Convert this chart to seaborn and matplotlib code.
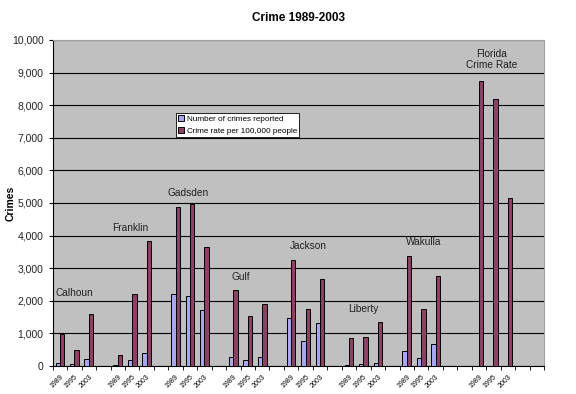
import numpy as np
import pandas as pd
import seaborn as sns
import matplotlib.pyplot as plt
from matplotlib.ticker import FuncFormatter

# data
counties = ["Calhoun", "Franklin", "Gadsden", "Gulf", "Jackson", "Liberty", "Wakulla", "Florida"]
years = ["1989", "1995", "2003"]
crimes_reported = [
    [100, 50, 200],      # Calhoun
    [30, 195, 400],      # Franklin
    [2220, 2140, 1715],  # Gadsden
    [290, 185, 290],     # Gulf
    [1460, 770, 1305],   # Jackson
    [20, 50, 80],        # Liberty
    [470, 260, 670],     # Wakulla
    [np.nan, np.nan, np.nan],  # Florida (not shown)
]
crime_rate = [
    [970, 480, 1610],
    [340, 2200, 3840],
    [4880, 4970, 3655],
    [2320, 1530, 1900],
    [3245, 1745, 2660],
    [850, 895, 1345],
    [3380, 1735, 2760],
    [8750, 8200, 5150],
]
label_text = ["Calhoun", "Franklin", "Gadsden", "Gulf", "Jackson", "Liberty", "Wakulla", "Florida\nCrime Rate"]
label_x = [1.0, 4.9, 8.9, 12.5, 17.2, 21.0, 25.2, 29.9]
label_y = [2230, 4230, 5320, 2720, 3670, 1750, 3790, 9400]

series = ["Number of crimes reported", "Crime rate per 100,000 people"]
colors = ["#9999FF", "#993366"]

# slot layout: 3 years per county, blank slots between groups
group_start = [0, 4, 8, 12, 16, 20, 24, 29]
n_slots = 34
slots = [f"blank{i}" for i in range(n_slots)]
tick_labels = [""] * n_slots
rows = []
for c, start in zip(range(len(counties)), group_start):
    for k, yr in enumerate(years):
        name = f"{counties[c]} {yr}"
        slots[start + k] = name
        tick_labels[start + k] = yr
        rows.append({"slot": name, "series": series[0], "value": crimes_reported[c][k]})
        rows.append({"slot": name, "series": series[1], "value": crime_rate[c][k]})
df = pd.DataFrame(rows)

plt.rcParams['font.family'] = ['Liberation Sans', 'DejaVu Sans']
fig = plt.figure(figsize=(5.76, 3.94), dpi=100)
ax = fig.add_axes([0.0915, 0.0711, 0.853, 0.8274])
ax.set_facecolor("#C0C0C0")

sns.barplot(data=df, x="slot", y="value", hue="series", order=slots, hue_order=series,
            palette=colors, width=0.6, edgecolor="black", linewidth=0.7, ax=ax, zorder=3)

ax.set_xlim(-0.5, n_slots - 0.5)
ax.set_ylim(0, 10000)
ax.set_yticks(range(0, 10001, 1000))
ax.yaxis.set_major_formatter(FuncFormatter(lambda v, p: f"{int(v):,}"))
ax.grid(axis="y", color="black", linewidth=0.8, zorder=0)
ax.set_axisbelow(True)

ax.set_xticks(range(n_slots))
ax.set_xticklabels(tick_labels, rotation=45, ha="right", fontsize=5, rotation_mode="anchor")
ax.set_xticks(np.arange(-0.5, n_slots, 1), minor=True)
ax.tick_params(axis="x", which="major", length=0, pad=5)
ax.tick_params(axis="x", which="minor", length=3, color="black")
ax.tick_params(axis="y", labelsize=7.5, length=3, color="black", labelcolor="#222222")

for s in ["top", "right"]:
    ax.spines[s].set_color("#A0A0A0")
for s in ["left", "bottom"]:
    ax.spines[s].set_color("black")

ax.set_xlabel("")
ax.set_ylabel("Crimes", fontsize=7.5, fontweight="bold")
ax.yaxis.set_label_coords(-0.075, 0.5)
ax.set_title("Crime 1989-2003", fontsize=8.5, fontweight="bold", pad=14)

for lx, txt, yv in zip(label_x, label_text, label_y):
    ax.text(lx, yv, txt, fontsize=7.3, color="#222222", ha="center", va="center", zorder=4)

leg = ax.legend(loc="upper left", bbox_to_anchor=(0.251, 0.776), fontsize=5.9, frameon=True,
                fancybox=False, edgecolor="black", framealpha=1, handlelength=0.7, handleheight=0.7,
                handletextpad=0.3, borderpad=0.3, labelspacing=0.45, borderaxespad=0)
leg.get_frame().set_linewidth(0.6)

fig.savefig("out.png", dpi=100)
